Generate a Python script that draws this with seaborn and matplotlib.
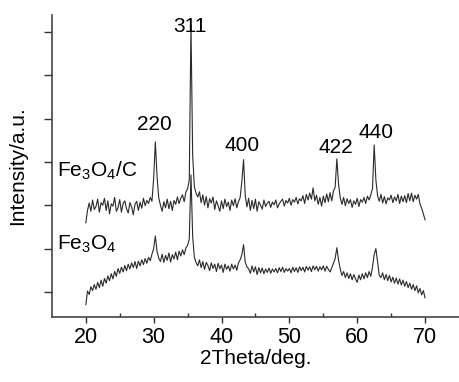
import numpy as np
import pandas as pd
import matplotlib.pyplot as plt
import seaborn as sns

sns.set_style('ticks')
plt.rcParams['font.family'] = ['Liberation Sans', 'DejaVu Sans']
plt.rcParams['mathtext.fontset'] = 'custom'
plt.rcParams['mathtext.rm'] = 'Liberation Sans'
plt.rcParams['text.color'] = 'black'
plt.rcParams['axes.labelcolor'] = 'black'
plt.rcParams['xtick.color'] = '#333333'
plt.rcParams['ytick.color'] = '#333333'
plt.rcParams['xtick.labelcolor'] = 'black'

# --- data (0.25 deg steps from 20 to 70) ---
two_theta = np.arange(20, 70.01, 0.25)

fe3o4_c = [
    2.59, 2.88, 3.05, 2.86,  3.12, 2.90, 2.97, 3.14,  2.84, 3.06, 3.00, 3.16,
    2.88, 3.10, 2.80, 3.03,  2.98, 3.18, 2.86, 2.94,  3.13, 2.84, 3.04, 3.10,
    2.92, 2.82, 3.06, 2.96,  2.78, 3.02, 3.09, 2.88,  3.07, 2.93, 3.16, 2.99,
    3.11, 3.04, 3.18, 3.09,  3.62, 4.46, 3.66, 3.17,  3.00, 2.86, 3.08, 2.94,
    3.14, 2.92, 3.09, 2.88,  3.11, 3.02, 3.19, 3.04,  3.16, 3.24, 3.08, 3.30,
    3.38, 3.58, 7.17, 4.15,  3.42, 3.28, 3.19, 3.31,  3.06, 3.24, 3.00, 3.20,
    2.94, 3.15, 3.05, 3.19,  2.90, 3.10, 2.99, 2.86,  3.10, 2.92, 3.14, 2.97,
    3.07, 2.88, 3.12, 2.99,  3.15, 2.94, 3.08, 3.18,  3.55, 4.05, 3.22, 2.96,
    3.16, 2.88, 3.11, 2.92,  3.14, 2.86, 3.08, 3.00,  2.91, 3.12, 2.97, 3.05,
    3.09, 2.95, 3.07, 3.01,  3.12, 2.94, 3.03, 3.09,  3.14, 2.98, 3.11, 3.05,
    3.16, 3.00, 3.13, 3.07,  3.18, 3.03, 3.15, 3.10,  3.22, 3.04, 3.25, 3.12,
    3.28, 3.14, 3.40, 3.10,  3.23, 3.02, 3.18, 2.98,  3.21, 3.06, 3.26, 3.08,
    3.29, 3.10, 3.33, 3.42,  4.07, 3.48, 3.17, 3.02,  3.18, 2.99, 3.15, 3.04,
    3.13, 2.95, 3.10, 3.02,  3.16, 2.97, 3.13, 3.07,  3.18, 3.04, 3.21, 3.12,
    3.24, 3.38, 4.39, 3.58,  3.22, 3.09, 3.25, 3.05,  3.20, 3.03, 3.17, 3.12,
    3.23, 3.06, 3.19, 3.10,  3.25, 3.04, 3.21, 3.08,  3.22, 3.06, 3.27, 3.10,
    3.28, 3.08, 3.23, 3.14,  3.25, 3.03, 2.93, 2.80,  2.66,
]

fe3o4 = [
    0.70, 1.02, 0.94, 1.12,  1.03, 1.17, 1.06, 1.22,  1.10, 1.27, 1.13, 1.31,
    1.20, 1.37, 1.26, 1.42,  1.30, 1.47, 1.36, 1.54,  1.43, 1.57, 1.46, 1.61,
    1.49, 1.64, 1.53, 1.67,  1.56, 1.70, 1.54, 1.71,  1.60, 1.74, 1.63, 1.77,
    1.66, 1.80, 1.72, 1.87,  2.00, 2.29, 1.93, 1.78,  1.70, 1.87, 1.68, 1.84,
    1.73, 1.90, 1.69, 1.86,  1.76, 1.92, 1.74, 1.94,  1.83, 1.97, 1.86, 2.02,
    2.07, 2.22, 3.70, 2.28,  1.80, 1.68, 1.60, 1.74,  1.56, 1.70, 1.52, 1.68,
    1.61, 1.49, 1.67, 1.54,  1.64, 1.47, 1.66, 1.53,  1.62, 1.45, 1.64, 1.52,
    1.60, 1.48, 1.64, 1.53,  1.62, 1.50, 1.67, 1.74,  1.86, 2.09, 1.68, 1.58,
    1.53, 1.43, 1.60, 1.46,  1.58, 1.40, 1.56, 1.44,  1.55, 1.42, 1.53, 1.45,
    1.55, 1.43, 1.53, 1.46,  1.54, 1.44, 1.56, 1.47,  1.57, 1.45, 1.54, 1.48,
    1.54, 1.44, 1.57, 1.47,  1.56, 1.45, 1.58, 1.49,  1.57, 1.46, 1.59, 1.50,
    1.58, 1.47, 1.60, 1.51,  1.59, 1.48, 1.58, 1.51,  1.60, 1.48, 1.59, 1.52,
    1.46, 1.56, 1.66, 1.77,  2.02, 1.73, 1.53, 1.38,  1.47, 1.33, 1.44, 1.31,
    1.42, 1.28, 1.40, 1.30,  1.22, 1.39, 1.28, 1.42,  1.30, 1.44, 1.33, 1.47,
    1.36, 1.57, 1.86, 2.00,  1.68, 1.38, 1.33, 1.44,  1.28, 1.40, 1.26, 1.38,
    1.23, 1.34, 1.20, 1.32,  1.18, 1.30, 1.16, 1.27,  1.13, 1.24, 1.10, 1.20,
    1.06, 1.17, 1.03, 1.14,  0.98, 1.08, 0.93, 1.03,  0.86,
]

peak_labels = ['220', '311', '400', '422', '440']
peak_x = [30.1, 35.4, 43.1, 56.8, 62.8]
peak_y = [4.86, 7.12, 4.37, 4.34, 4.67]

df = pd.concat([
    pd.DataFrame({'2theta': two_theta, 'I': fe3o4_c, 'sample': 'Fe3O4/C'}),
    pd.DataFrame({'2theta': two_theta, 'I': fe3o4, 'sample': 'Fe3O4'}),
])

fig = plt.figure(figsize=(4.59, 3.82), dpi=100)
ax = fig.add_axes([0.113, 0.170, 0.887, 0.791])

sns.lineplot(data=df, x='2theta', y='I', hue='sample', units='sample',
             estimator=None, palette=['#2a2a2a', '#2a2a2a'], linewidth=0.8,
             legend=False, ax=ax)

for lab, px, py in zip(peak_labels, peak_x, peak_y):
    ax.text(px, py, lab, ha='center', va='center', fontsize=15)

ax.text(15.7, 3.8, r'Fe$_\mathregular{3}$O$_\mathregular{4}$/C', ha='left', va='center', fontsize=15)
ax.text(15.7, 2.1, r'Fe$_\mathregular{3}$O$_\mathregular{4}$', ha='left', va='center', fontsize=15)

ax.set_xlim(15, 75)
ax.set_ylim(0.42, 7.39)
ax.set_xticks([20, 30, 40, 50, 60, 70])
ax.set_xticks([25, 35, 45, 55, 65], minor=True)
ax.set_yticks([1, 2, 3, 4, 5, 6, 7])
ax.set_yticklabels([])
ax.tick_params(axis='x', which='major', direction='out', length=4, width=1, labelsize=15.5, pad=3)
ax.tick_params(axis='x', which='minor', direction='in', length=3, width=1)
ax.tick_params(axis='y', direction='out', length=6, width=1)
ax.set_xlabel('2Theta/deg.', fontsize=15, labelpad=1)
ax.set_ylabel('Intensity/a.u.', fontsize=15, labelpad=8)
sns.despine(ax=ax)
for s in ['left', 'bottom']:
    ax.spines[s].set_color('#444444')
    ax.spines[s].set_linewidth(1.2)

fig.savefig('out.png', dpi=100)
